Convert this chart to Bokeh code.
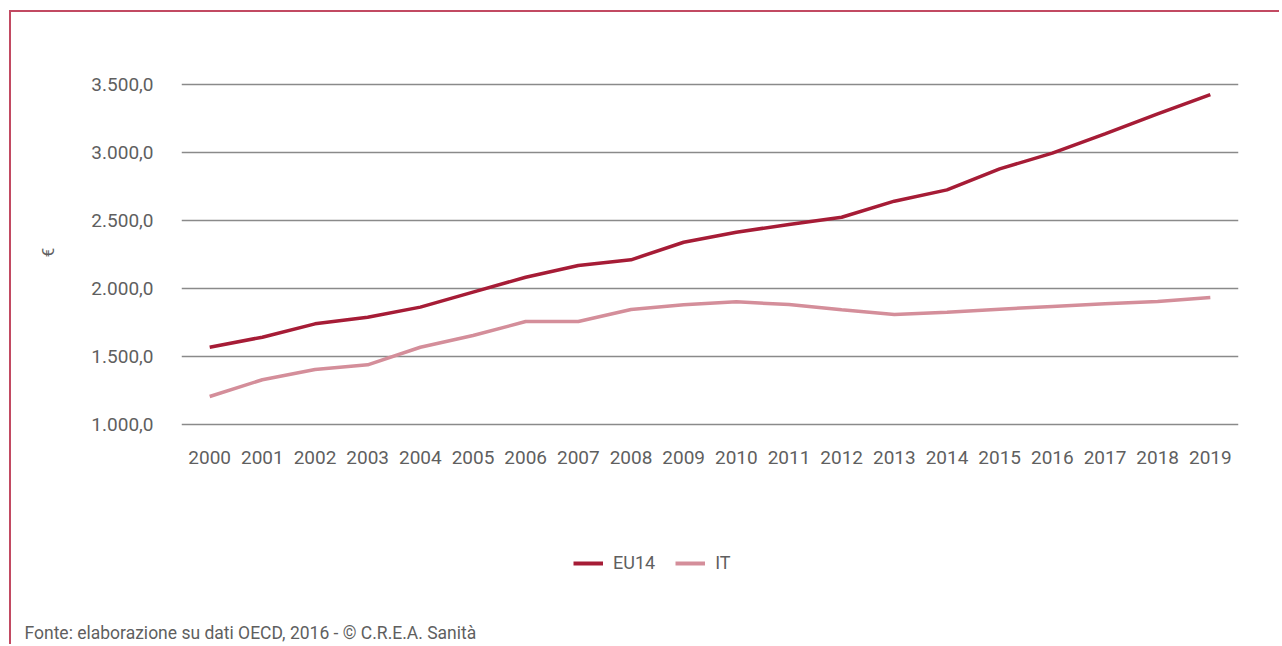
from bokeh.plotting import figure
from bokeh.layouts import column
from bokeh.models import (FactorRange, Range1d, Legend, LegendItem, Label,
                          CustomJSTickFormatter, FixedTicker)
from bokeh.embed import file_html
from bokeh.resources import INLINE

years = [str(y) for y in range(2000, 2020)]
eu14 = [1568, 1642, 1740, 1789, 1863, 1973, 2083, 2169, 2211, 2340,
        2414, 2471, 2524, 2642, 2725, 2880, 2995, 3137, 3284, 3426]
it = [1206, 1329, 1404, 1439, 1568, 1654, 1757, 1757, 1846, 1880,
      1902, 1882, 1843, 1809, 1826, 1848, 1868, 1887, 1904, 1934]
y_ticks = [1000, 1500, 2000, 2500, 3000, 3500]
series_names = ["EU14", "IT"]
y_label = "€"
footer = "Fonte: elaborazione su dati OECD, 2016 - © C.R.E.A. Sanità"

FONT = "Roboto"
TXT = "#5f5f5f"
C_EU = "#a61c36"
C_IT = "#d48e9a"
FRAME = "#c24a62"

W = 1268
H1 = 488
H2 = 144

p = figure(width=W, height=H1, output_backend="svg", toolbar_location=None,
           x_range=FactorRange(factors=years, range_padding=0.0035),
           y_range=Range1d(985.3, 3544.1),
           min_border_left=170, min_border_right=41,
           min_border_top=66, min_border_bottom=74)
p.outline_line_color = None
p.frame_align = False

r1 = p.line(years, eu14, line_color=C_EU, line_width=3.5)
r2 = p.line(years, it, line_color=C_IT, line_width=3.5)

p.xgrid.grid_line_color = None
p.ygrid.grid_line_color = "#8a8a8a"
p.ygrid.grid_line_width = 1.5
p.yaxis.ticker = FixedTicker(ticks=y_ticks)
p.yaxis.formatter = CustomJSTickFormatter(code="""
const s = tick.toFixed(1).split('.');
return s[0].replace(/\\B(?=(\\d{3})+(?!\\d))/g, '.') + ',' + s[1];
""")
for ax in (p.xaxis, p.yaxis):
    ax.axis_line_color = None
    ax.major_tick_line_color = None
    ax.minor_tick_line_color = None
    ax.major_tick_in = 0
    ax.major_tick_out = 0
    ax.minor_tick_in = 0
    ax.minor_tick_out = 0
    ax.major_label_text_font = FONT
    ax.major_label_text_font_size = "19px"
    ax.major_label_text_color = TXT
p.yaxis.major_label_standoff = 28
p.xaxis.major_label_standoff = 24
p.yaxis.axis_label = y_label
p.yaxis.axis_label_standoff = 30
p.yaxis.axis_label_text_font = FONT
p.yaxis.axis_label_text_font_size = "17px"
p.yaxis.axis_label_text_font_style = "normal"
p.yaxis.axis_label_text_color = TXT

# lower panel: legend and source note
q = figure(width=W, height=H2, output_backend="svg", toolbar_location=None,
           x_range=Range1d(0, 1), y_range=Range1d(0, 1),
           x_axis_location=None, y_axis_location=None,
           min_border=0, min_border_left=0, min_border_right=0,
           min_border_top=0, min_border_bottom=0)
q.frame_align = False
q.outline_line_color = None
q.xgrid.grid_line_color = None
q.ygrid.grid_line_color = None
nan = float("nan")
k1 = q.line(x=[nan], y=[nan], line_color=C_EU, line_width=4)
k2 = q.line(x=[nan], y=[nan], line_color=C_IT, line_width=4)

legend = Legend(items=[LegendItem(label=series_names[0], renderers=[k1]),
                       LegendItem(label=series_names[1], renderers=[k2])],
                orientation="horizontal", location=(562, 71),
                glyph_width=30, glyph_height=20, label_standoff=10, spacing=20,
                padding=0, margin=0, border_line_alpha=0, background_fill_alpha=0,
                label_text_font=FONT, label_text_font_size="18px",
                label_text_color=TXT)
q.add_layout(legend)

q.add_layout(Label(x=13, y=12, x_units="screen", y_units="screen", text=footer,
                   text_align="left", text_baseline="alphabetic",
                   text_font=FONT, text_font_size="17.5px", text_color=TXT))

layout = column(p, q, spacing=0,
                styles={"margin-left": "9px", "margin-top": "10px",
                        "border-left": f"2px solid {FRAME}",
                        "border-top": f"2px solid {FRAME}"})

open("out.html", "w").write(file_html(layout, INLINE))
